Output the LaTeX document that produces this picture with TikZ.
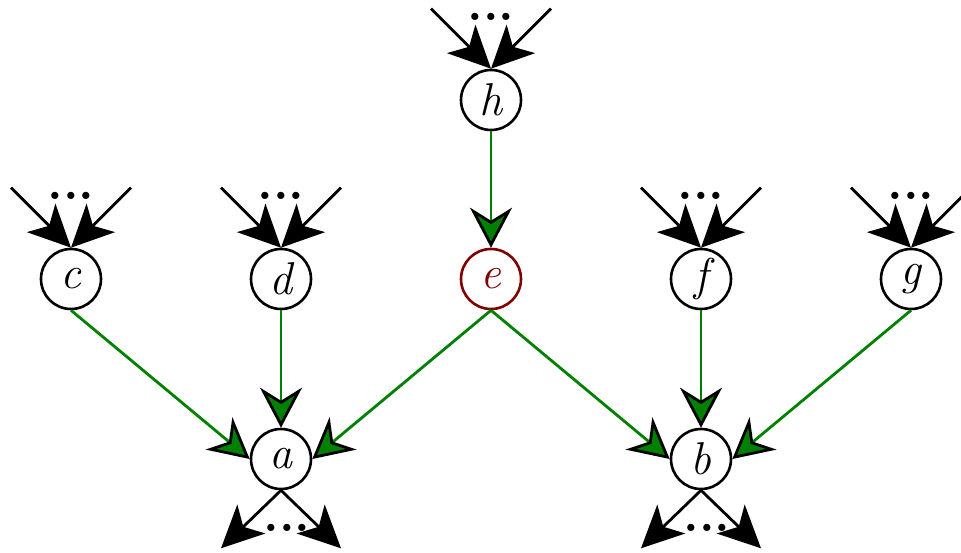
\documentclass[tikz,border=0pt]{standalone}
\usetikzlibrary{arrows.meta}
\definecolor{edgegreen}{RGB}{0,128,0}
\definecolor{nodered}{RGB}{128,0,0}
\tikzset{
  vertex/.style={circle,draw,fill=white,line width=2.6pt,minimum size=60pt,inner sep=0pt,
    font=\fontsize{46}{46}\selectfont\itshape},
  link/.style={draw=edgegreen,line width=2.8pt,
    -{Stealth[length=40pt,width=42pt,inset=13pt,color=black,fill=edgegreen]}},
  stub/.style={draw=black,line width=2.8pt,-{Stealth[length=42pt,width=40pt,inset=11pt]}},
  dots/.style={font=\fontsize{50}{50}\selectfont\bfseries,inner sep=0pt,anchor=base}
}
\begin{document}
\begin{tikzpicture}[x=1pt,y=-1pt]
\useasboundingbox (0,0) rectangle (961,553);

% vertices
\node[vertex] (h) at (491,100) {h};
\node[vertex] (c) at (71,279) {c};
\node[vertex] (d) at (281,279) {d};
\node[vertex,draw=nodered,text=nodered] (e) at (491,279) {e};
\node[vertex] (f) at (701,279) {f};
\node[vertex] (g) at (911,279) {g};
\node[vertex] (a) at (281,459) {a};
\node[vertex] (b) at (701,459) {b};

% incoming stubs from elided predecessors
\foreach \n in {h,c,d,f,g}{
  \path (\n.north) ++(-60,-60) coordinate (\n-inl)
        (\n.north) ++(60,-60) coordinate (\n-inr);
  \draw[stub] (\n-inl) -- (\n.north);
  \draw[stub] (\n-inr) -- (\n.north);
  \path (\n.north) ++(0,-48) node[dots] (\n-dots) {...};
}

% outgoing stubs to elided successors
\foreach \n in {a,b}{
  \path (\n.south) ++(-60,58) coordinate (\n-outl)
        (\n.south) ++(60,58) coordinate (\n-outr);
  \draw[stub] (\n.south) -- (\n-outl);
  \draw[stub] (\n.south) -- (\n-outr);
  \path (\n.south) ++(6,41) node[dots] (\n-dots) {...};
}

% green edges
\draw[link] (h.south) -- (e.north);
\draw[link] (c.south) -- (a.west);
\draw[link] (d.south) -- (a.north);
\draw[link] (e.south) -- (a.east);
\draw[link] (e.south) -- (b.west);
\draw[link] (f.south) -- (b.north);
\draw[link] (g.south) -- (b.east);
\end{tikzpicture}
\end{document}
